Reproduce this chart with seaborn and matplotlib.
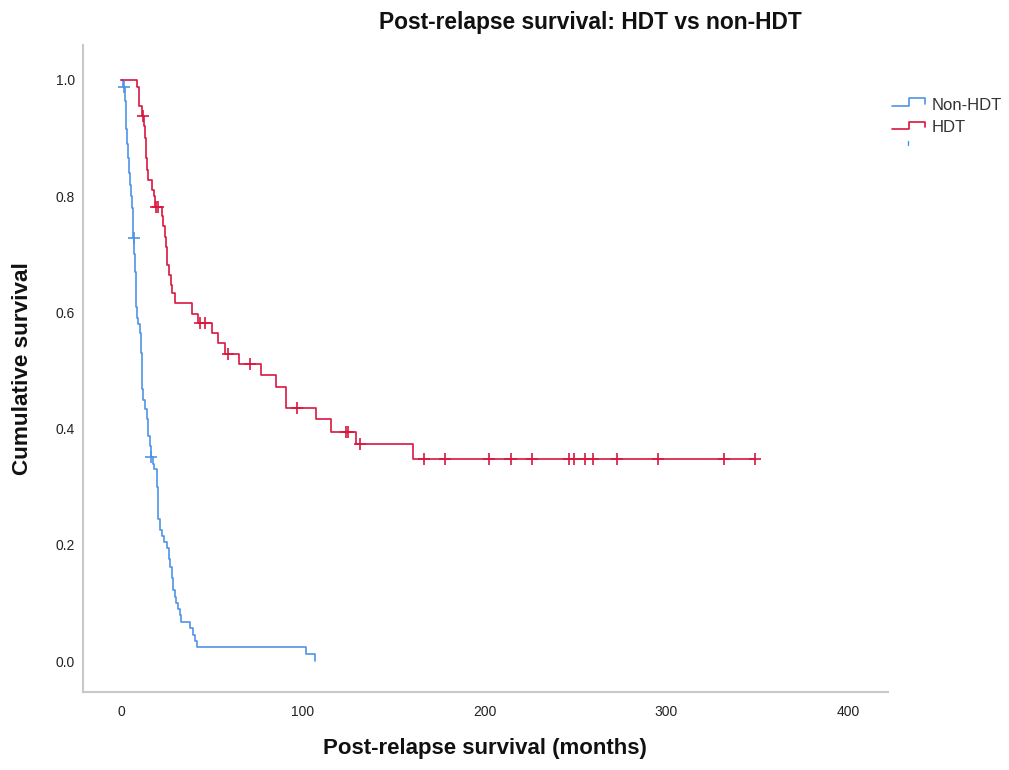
import numpy as np
import pandas as pd
import matplotlib
matplotlib.use("Agg")
import matplotlib.pyplot as plt
import seaborn as sns
from matplotlib.lines import Line2D

# ---------------- data ----------------
nonhdt_t = [0, 1.2, 2.0, 2.5, 3.0, 3.5, 4.0, 4.5, 5.0, 5.5, 6.0, 6.5, 6.7, 7.3, 7.7,
            8.0, 8.4, 8.8, 9.5, 10.2, 10.8, 11.3, 11.7, 12.3, 13.2, 14.1, 15.0, 15.8,
            16.3, 17.5, 18.3, 19.9, 20.2, 20.6, 21.2, 22.4, 23.5, 25.5, 26.5, 27.0,
            28.0, 28.8, 29.5, 30.0, 31.3, 32.4, 33.0, 37.9, 39.5, 40.6, 41.8, 101.5, 107.0]
nonhdt_s = [1.0, .988, .964, .94, .915, .89, .865, .84, .82, .80, .78, .75, .728, .70, .67,
            .64, .61, .59, .58, .565, .53, .50, .468, .45, .434, .416, .387, .37,
            .352, .34, .33, .30, .27, .245, .226, .215, .205, .195, .175, .162,
            .143, .123, .11, .10, .09, .079, .067, .057, .045, .035, .0236, .0118, 0.0]
nonhdt_cens = [1.6, 6.9, 16.5]

hdt_t = [0, 8.6, 10.0, 11.5, 12.5, 13.0, 13.5, 14.0, 14.3, 14.6, 17.0, 18.0, 18.5, 22.5,
         23.3, 24.0, 24.6, 25.2, 26.5, 27.3, 28.2, 29.7, 38.8, 42.5, 49.8, 53.5, 57.1,
         65.0, 76.9, 85.5, 90.7, 107.5, 115.8, 129.5, 160.6, 348.9]
hdt_s = [1.0, .988, .955, .938, .92, .90, .885, .865, .845, .828, .81, .80, .782, .765,
         .748, .73, .713, .682, .665, .648, .633, .616, .598, .582, .564, .547, .528,
         .511, .492, .472, .435, .416, .395, .3735, .347, .347]
hdt_cens = [12.0, 19.3, 20.3, 43.5, 46.2, 58.6, 70.9, 96.9, 124.0, 124.9, 131.5,
            166.7, 178.4, 202.7, 214.3, 226.2, 246.3, 249.5, 255.5, 259.5, 272.9,
            295.2, 332.0, 348.9]

groups = ["Non-HDT", "HDT"]
colors = {"Non-HDT": "#4f93e6", "HDT": "#d8173f"}
x_ticks = [0, 100, 200, 300, 400]
y_ticks = [0.0, 0.2, 0.4, 0.6, 0.8, 1.0]


def surv_at(times, surv, c):
    idx = np.searchsorted(np.asarray(times), c, side="right") - 1
    return surv[idx]


curves = pd.concat([
    pd.DataFrame({"t": nonhdt_t, "S": nonhdt_s, "group": "Non-HDT"}),
    pd.DataFrame({"t": hdt_t, "S": hdt_s, "group": "HDT"}),
], ignore_index=True)

cens = pd.concat([
    pd.DataFrame({"t": nonhdt_cens,
                  "S": [surv_at(nonhdt_t, nonhdt_s, c) for c in nonhdt_cens],
                  "group": "Non-HDT"}),
    pd.DataFrame({"t": hdt_cens,
                  "S": [surv_at(hdt_t, hdt_s, c) for c in hdt_cens],
                  "group": "HDT"}),
], ignore_index=True)

# ---------------- plot ----------------
sns.set_style("white")
plt.rcParams["font.family"] = ["Liberation Sans", "DejaVu Sans"]

W, H = 1009, 770
fig = plt.figure(figsize=(W / 100, H / 100), dpi=100)
ax = fig.add_axes([82.5 / W, 1 - 692 / H, (888 - 82.5) / W, (692 - 45) / H])

sns.lineplot(data=curves, x="t", y="S", hue="group", palette=colors,
             estimator=None, sort=False, drawstyle="steps-post",
             linewidth=1.2, legend=False, ax=ax)
sns.scatterplot(data=cens, x="t", y="S", hue="group", palette=colors,
                marker="+", s=75, linewidth=1.2, legend=False, ax=ax, zorder=3)

ax.set_xlim(-21.2, 422)
ax.set_ylim(-0.053, 1.06)
ax.set_xticks(x_ticks)
ax.set_xticklabels([str(v) for v in x_ticks])
ax.set_yticks(y_ticks)
ax.set_yticklabels([f"{v:.1f}" for v in y_ticks])
ax.tick_params(axis="both", length=0, labelsize=10, labelcolor="#222222")
ax.tick_params(axis="y", pad=5.5)
ax.tick_params(axis="x", pad=9)

for side in ["top", "right"]:
    ax.spines[side].set_visible(False)
for side in ["left", "bottom"]:
    ax.spines[side].set_color("#c8c8c8")
    ax.spines[side].set_linewidth(1.5)

ax.set_xlabel("Post-relapse survival (months)", fontsize=16, fontweight="bold",
              color="#111111")
ax.set_ylabel("Cumulative survival", fontsize=16.2, fontweight="bold", color="#111111")
ax.xaxis.set_label_coords(0.5, -0.0866)
ax.xaxis.label.set_va("center")
ax.yaxis.set_label_coords(-0.0751, 0.5)
ax.yaxis.label.set_va("center")

fig.text(590 / W, 1 - 22 / H, "Post-relapse survival: HDT vs non-HDT",
         ha="center", va="center", fontsize=16.4, fontweight="bold", color="#111111")


# ---------------- legend (step-shaped icons) ----------------
def fx(px):
    return px / W


def fy(py):
    return 1 - py / H


def icon(y_low, color):
    xs = [891.7, 909.3, 909.3, 925, 925]
    ys = [y_low, y_low, y_low - 7.7, y_low - 7.7, y_low - 2.3]
    fig.add_artist(Line2D([fx(v) for v in xs], [fy(v) for v in ys],
                          transform=fig.transFigure, color=color, lw=1.2))


icon(106, colors["Non-HDT"])
fig.text(fx(931.7), fy(105), "Non-HDT", ha="left", va="center", fontsize=12,
         color="#333333")
icon(129.3, colors["HDT"])
fig.text(fx(931.7), fy(128), "HDT", ha="left", va="center", fontsize=12,
         color="#333333")
fig.add_artist(Line2D([fx(908), fx(908)], [fy(140.5), fy(145)],
                      transform=fig.transFigure, color=colors["Non-HDT"], lw=1.0))

fig.savefig("out.png", dpi=100)
